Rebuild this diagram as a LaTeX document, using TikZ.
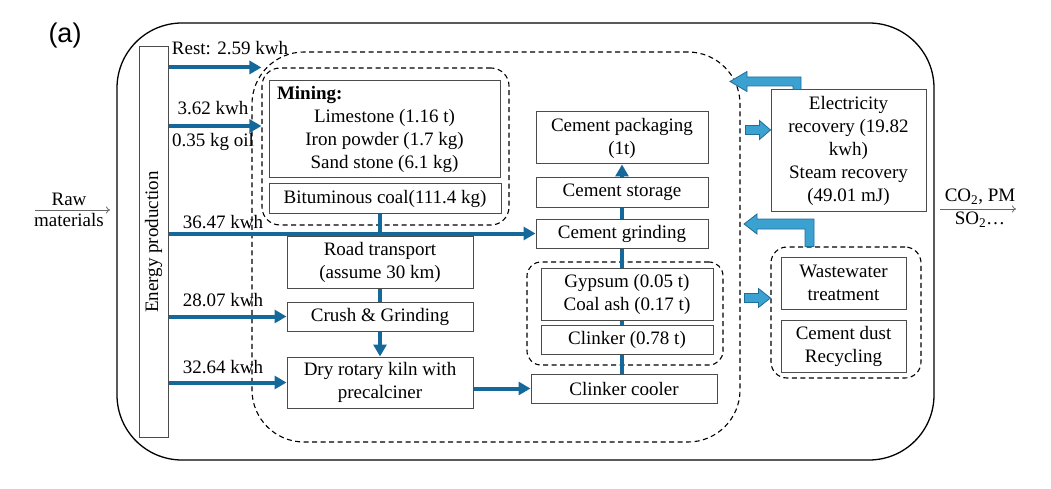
\documentclass[tikz,border=0pt]{standalone}
\usepackage{fontspec}
\setmainfont{Liberation Serif}
\newfontfamily\tagfont{Liberation Sans}
\usetikzlibrary{arrows.meta}
\definecolor{flowblue}{HTML}{15699A}
\definecolor{recblue}{HTML}{3BA1D1}
\definecolor{recedge}{HTML}{1F6D99}

\begin{document}
\begin{tikzpicture}[x=1pt,y=-1pt]
\tikzset{every node/.style={font=\fontsize{19}{23}\selectfont}}
\tikzset{box/.style = {shape=rectangle,draw=black!70,line width=1pt,fill=white,inner sep=0pt,align=center}}
\tikzset{group/.style = {shape=rectangle,draw=black,line width=1.1pt,dash pattern=on 5pt off 3.5pt,inner sep=0pt}}
\tikzset{flow/.style = {-{Triangle[width=13pt,length=12pt]},line width=4pt,flowblue}}
\tikzset{link/.style = {-,line width=4pt,flowblue}}
\tikzset{recovery/.style = {fill=recblue,draw=recedge,line width=0.8pt}}
\tikzset{thinarrow/.style = {-{To[length=4pt,width=7pt]},line width=0.8pt,black!60}}
\useasboundingbox (0,0) rectangle (1051,489);

% frames
\node[shape=rectangle,draw,line width=1.3pt,rounded corners=65pt,minimum width=817pt,minimum height=437pt] (plant) at (525.5,241.5) {};
\node[group,rounded corners=52pt,minimum width=488pt,minimum height=390pt] (process) at (496,247) {};
\node[group,rounded corners=18pt,minimum width=247pt,minimum height=157pt] (minegroup) at (385.5,146.5) {};
\node[group,rounded corners=14pt,minimum width=196pt,minimum height=103pt] (addgroup) at (625,313.5) {};
\node[group,rounded corners=16pt,minimum width=150pt,minimum height=131pt] (treatgroup) at (846,312.5) {};
\node[font=\tagfont\fontsize{27}{30}\selectfont] (tag) at (65,36) {(a)};

% vertices
\node[box,minimum width=29pt,minimum height=390pt] (energy) at (153.5,242) {\rotatebox{90}{Energy production}};
\node[box,minimum width=231pt,minimum height=97pt] (mining) at (384.5,129.5) {\makebox[215pt][l]{\textbf{Mining:}}\\Limestone (1.16 t)\\Iron powder (1.7 kg)\\Sand stone (6.1 kg)};
\node[box,minimum width=232pt,minimum height=29pt] (coal) at (385,198.5) {Bituminous coal(111.4 kg)};
\node[box,minimum width=186pt,minimum height=52pt] (road) at (380,262) {Road transport\\(assume 30 km)};
\node[box,minimum width=186pt,minimum height=29pt] (crush) at (380,316.5) {Crush \& Grinding};
\node[box,minimum width=186pt,minimum height=51pt] (kiln) at (380,382.5) {Dry rotary kiln with\\precalciner};
\node[box,minimum width=172pt,minimum height=52pt] (pack) at (622,138) {Cement packaging\\(1t)};
\node[box,minimum width=172pt,minimum height=29pt] (storage) at (622,192.5) {Cement storage};
\node[box,minimum width=172pt,minimum height=29pt] (grind) at (622,233.5) {Cement grinding};
\node[box,minimum width=172pt,minimum height=52pt] (gypsum) at (627,294) {Gypsum (0.05 t)\\Coal ash (0.17 t)};
\node[box,minimum width=172pt,minimum height=29pt] (clinker) at (627,339.5) {Clinker (0.78 t)};
\node[box,minimum width=186pt,minimum height=29pt] (cooler) at (624,388.5) {Clinker cooler};
\node[box,minimum width=155pt,minimum height=121pt] (elec) at (848.5,150.5) {Electricity\\recovery (19.82\\kwh)\\Steam recovery\\(49.01 mJ)};
\node[box,minimum width=125pt,minimum height=52pt] (waste) at (843.5,283) {Wastewater\\treatment};
\node[box,minimum width=125pt,minimum height=52pt] (dust) at (843.5,346) {Cement dust\\Recycling};

% labels
\node (lrest) at (230,48) {Rest: 2.59 kwh};
\node (lpower) at (213,108) {3.62 kwh};
\node (loil) at (213,142) {0.35 kg oil};
\node (lgrind) at (223,222) {36.47 kwh};
\node (lcrush) at (223,300) {28.07 kwh};
\node (lkiln) at (223,367) {32.64 kwh};
\node (lraw1) at (69,199) {Raw};
\node (lraw2) at (69,220) {materials};
\node (lemis1) at (980,197) {CO\textsubscript{2}, PM};
\node (lemis2) at (980,220) {SO\textsubscript{2}…};
\coordinate (rawin) at (35,210);
\coordinate (rawout) at (110,210);
\coordinate (emisin) at (940,209);
\coordinate (emisout) at (1016,209);

%edges
\draw[thinarrow] (rawin) -- (rawout);
\draw[thinarrow] (emisin) -- (emisout);
\draw[flow] (energy.east |- minegroup.north west) -- (minegroup.north west);
\draw[flow] (energy.east |- 0,126) -- (minegroup.west |- 0,126);
\draw[flow] (energy.east |- grind.west) -- (grind.west);
\draw[flow] (energy.east |- crush.west) -- (crush.west);
\draw[flow] (energy.east |- kiln.west) -- (kiln.west);
\draw[link] (road.north |- coal.south) -- (road.north);
\draw[link] (road.south) -- (crush.north);
\draw[flow] (crush.south) -- (kiln.north);
\draw[flow] (kiln.east |- cooler.west) -- (cooler.west);
\draw[link] (grind.south |- cooler.north) -- (grind.south |- clinker.south);
\draw[link] (grind.south |- clinker.north) -- (grind.south |- gypsum.south);
\draw[link] (grind.south |- gypsum.north) -- (grind.south);
\draw[link] (grind.north) -- (storage.south);
\draw[flow] (storage.north) -- (pack.south);

% recovery arrows
\draw[recovery] (elec.west |- 0,130) -- ++(-11,-9.5) -- ++(0,5) -- ++(-14,0) -- ++(0,9) -- ++(14,0) -- ++(0,5) -- cycle;
\draw[recovery] (treatgroup.west |- 0,298) -- ++(-12,-9.5) -- ++(0,5) -- ++(-14,0) -- ++(0,9) -- ++(14,0) -- ++(0,5) -- cycle;
\draw[recovery] (elec.north -| 801,0) -- (801,77) -- (747,77) -- (747,71.5) -- (730,81.5) -- (747,91.5) -- (747,86) -- (793,86) -- (elec.north -| 793,0) -- cycle;
\draw[recovery] (treatgroup.north -| 814,0) -- (814,219) -- (757,219) -- (757,214) -- (744,224) -- (757,234) -- (757,229) -- (805,229) -- (treatgroup.north -| 805,0) -- cycle;
\end{tikzpicture}
\end{document}
